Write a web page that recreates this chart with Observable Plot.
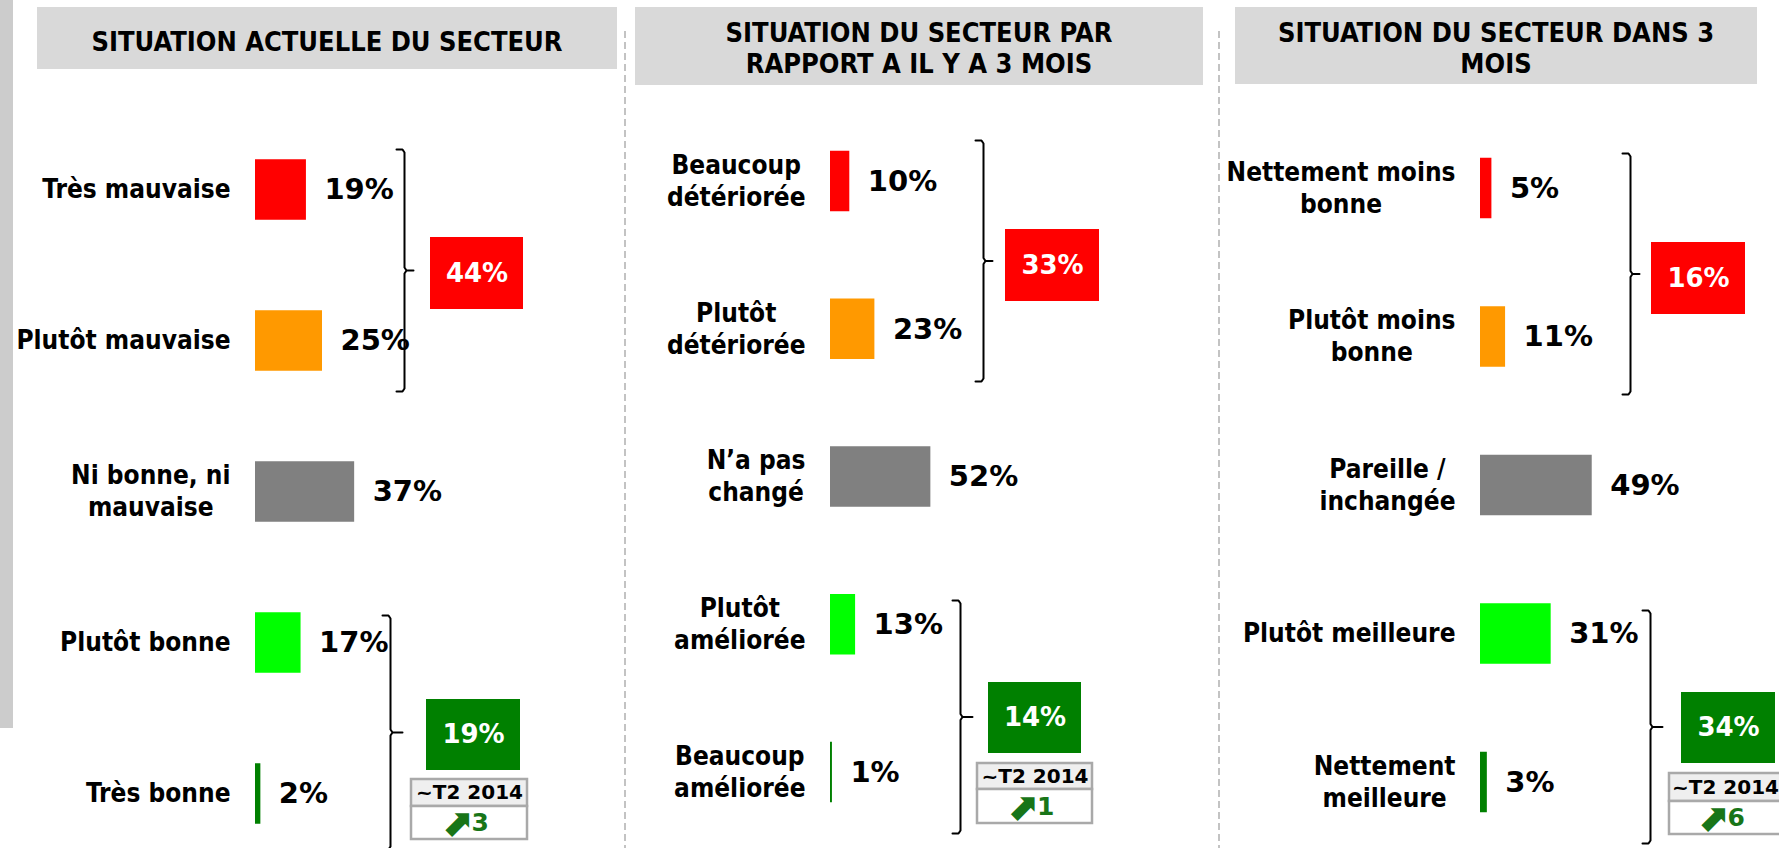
<!DOCTYPE html>
<html><head><meta charset="utf-8">
<script src="https://cdn.jsdelivr.net/npm/d3@7"></script>
<script src="https://cdn.jsdelivr.net/npm/@observablehq/plot@0.6"></script>
<style>
html,body{margin:0;padding:0;background:#fff;}
#root{position:relative;width:1779px;height:848px;overflow:hidden;background:#fff;}
.strip{position:absolute;left:0;top:0;width:13px;height:728px;background:#cccccc;}
.tbox{position:absolute;background:#d9d9d9;}
.ttext{position:absolute;left:0;right:0;text-align:center;font-weight:bold;font-size:27px;line-height:31.5px;color:#000;white-space:pre;font-family:'DejaVu Sans Condensed','DejaVu Sans',sans-serif;}
.dash{position:absolute;width:2px;top:31px;height:817px;background:repeating-linear-gradient(to bottom,#c3c3c3 0 7px,transparent 7px 11px);z-index:5;}
.pan{position:absolute;top:0;height:848px;}
</style></head><body><div id="root"></div>
<script>
// ---------- data ----------
const panelTitles = ["SITUATION ACTUELLE DU SECTEUR", "SITUATION DU SECTEUR PAR\nRAPPORT A IL Y A 3 MOIS", "SITUATION DU SECTEUR DANS 3\nMOIS"];
const labels1 = ["Très mauvaise", "Plutôt mauvaise", "Ni bonne, ni\nmauvaise", "Plutôt bonne", "Très bonne"];
const values1 = [19, 25, 37, 17, 2];
const labels2 = ["Beaucoup\ndétériorée", "Plutôt\ndétériorée", "N’a pas\nchangé", "Plutôt\naméliorée", "Beaucoup\naméliorée"];
const values2 = [10, 23, 52, 13, 1];
const labels3 = ["Nettement moins\nbonne", "Plutôt moins\nbonne", "Pareille /\ninchangée", "Plutôt meilleure", "Nettement\nmeilleure"];
const values3 = [5, 11, 49, 31, 3];
const negTotals = [44, 33, 16];
const posTotals = [19, 14, 34];
const trendPeriod = "~T2 2014";
const trendDeltas = [3, 1, 6];

// ---------- styles / layout ----------
const barColors = ["#ff0000", "#ff9900", "#808080", "#00ff00", "#008000"];
const NEG = "#ff0000", POS = "#008000", TREND = "#187518";
const CONDENSED = "'DejaVu Sans Condensed', 'DejaVu Sans', sans-serif";
const REGULAR = "'DejaVu Sans', sans-serif";

const layouts = [
  {left: 0, width: 625, x0: 255, k: 2.68, c0: 189.5, c4: 793.5,
   ub: {xv: 404, top: 149, bot: 391}, red: [430, 523, 237, 309],
   lb: {xv: 390, top: 615, bot: 849}, green: [426, 520, 699, 770],
   t2: [411, 527, 779, 806, 839],
   tbox: [37, 7, 580, 62], ttop: 19},
  {left: 625, width: 594, x0: 830, k: 1.93, c0: 181, c4: 772,
   ub: {xv: 983, top: 140, bot: 381}, red: [1005, 1099, 229, 301],
   lb: {xv: 960, top: 600, bot: 833}, green: [988, 1081, 682, 753],
   t2: [977, 1092, 763, 789, 823],
   tbox: [635, 7, 568, 78], ttop: 9.75},
  {left: 1219, width: 560, x0: 1480, k: 2.28, c0: 188, c4: 782,
   ub: {xv: 1630, top: 153, bot: 394}, red: [1651, 1745, 242, 314],
   lb: {xv: 1650, top: 610, bot: 843}, green: [1681, 1775, 692, 763],
   t2: [1669, 1781, 773, 801, 834],
   tbox: [1235, 7, 522, 77], ttop: 9.75}
];

const root = document.getElementById("root");
const cv = document.createElement("canvas").getContext("2d");
function measure(t, font) { cv.font = font; return cv.measureText(t).width; }

function drawPanel(p, title, labels, values, negTotal, posTotal, delta) {
  const s = (p.c4 - p.c0) / 4;
  const ux = g => (g - p.x0) / p.k;
  const uy = g => (g - p.c0) / s;
  const hb = 30.25 / s;
  const data = labels.map((l, i) => ({label: l, value: values[i], i, color: barColors[i]}));

  // category label lines (centered block, right edge at gap from bar start)
  const LFONT = `bold 26px ${CONDENSED}`;
  const lines = [];
  data.forEach(d => {
    const parts = d.label.split("\n");
    const maxW = Math.max(...parts.map(t => measure(t, LFONT)));
    parts.forEach((t, j) => lines.push({
      text: t,
      x: -(25 + maxW / 2) / p.k,
      y: d.i + ((j - (parts.length - 1) / 2) * 32) / s
    }));
  });

  function brace(b, tip) {
    const mid = (b.top + b.bot) / 2, h = 8;
    return [[b.xv - h, b.top], [b.xv - 2, b.top], [b.xv, b.top + 3], [b.xv, mid - 3], [b.xv + 2, mid],
            [b.xv + tip, mid], [b.xv + 2, mid], [b.xv, mid + 3], [b.xv, b.bot - 3], [b.xv - 2, b.bot], [b.xv - h, b.bot]]
      .map(([x, y]) => ({x: ux(x), y: uy(y)}));
  }
  const box = ([x1, x2, y1, y2]) => ({x1: ux(x1), x2: ux(x2), y1: uy(y1), y2: uy(y2), cx: ux((x1 + x2) / 2), cy: uy((y1 + y2) / 2)});
  const red = box(p.red), green = box(p.green);
  const [tx1, tx2, ty1, tym, ty2] = p.t2;
  const head = box([tx1, tx2, ty1, tym]), row = box([tx1, tx2, tym, ty2]);

  const chart = Plot.plot({
    width: p.width, height: 848,
    marginTop: 0, marginBottom: 0, marginLeft: 0, marginRight: 0,
    style: {background: "transparent", overflow: "visible"},
    x: {domain: [0, 100], range: [p.x0 - p.left, p.x0 - p.left + 100 * p.k], axis: null},
    y: {domain: [0, 4], range: [p.c0, p.c4], axis: null},
    color: {type: "identity"},
    marks: [
      Plot.rect(data, {x1: 0, x2: "value", y1: d => d.i - hb, y2: d => d.i + hb, fill: "color"}),
      Plot.text(lines, {x: "x", y: "y", text: "text", textAnchor: "middle", lineAnchor: "middle",
        fontSize: 26, fontWeight: "bold", fontFamily: CONDENSED, fill: "#000"}),
      Plot.text(data, {x: "value", y: "i", text: d => `${d.value}%`, dx: 18, textAnchor: "start", lineAnchor: "middle",
        fontSize: 29, fontWeight: "bold", fontFamily: REGULAR, fill: "#000"}),
      Plot.line(brace(p.ub, 9), {x: "x", y: "y", stroke: "#000", strokeWidth: 2}),
      Plot.line(brace(p.lb, 12), {x: "x", y: "y", stroke: "#000", strokeWidth: 2}),
      Plot.rect([red], {x1: "x1", x2: "x2", y1: "y1", y2: "y2", fill: NEG}),
      Plot.text([red], {x: "cx", y: "cy", text: () => `${negTotal}%`, lineAnchor: "middle",
        fontSize: 26, fontWeight: "bold", fontFamily: REGULAR, fill: "#fff"}),
      Plot.rect([green], {x1: "x1", x2: "x2", y1: "y1", y2: "y2", fill: POS}),
      Plot.text([green], {x: "cx", y: "cy", text: () => `${posTotal}%`, lineAnchor: "middle",
        fontSize: 26, fontWeight: "bold", fontFamily: REGULAR, fill: "#fff"}),
      Plot.rect([head], {x1: "x1", x2: "x2", y1: "y1", y2: "y2", fill: "#efefef", stroke: "#a9a9a9", strokeWidth: 2.5}),
      Plot.rect([row], {x1: "x1", x2: "x2", y1: "y1", y2: "y2", fill: "#fff", stroke: "#a9a9a9", strokeWidth: 2.5}),
      Plot.text([head], {x: "cx", y: "cy", text: () => trendPeriod, lineAnchor: "middle",
        fontSize: 20, fontWeight: "bold", fontFamily: REGULAR, fill: "#000"}),
      Plot.text([row], {x: "cx", y: "cy", text: () => "⬈", textAnchor: "end", lineAnchor: "middle", dx: 3, dy: 1,
        fontSize: 38, fontWeight: "bold", fontFamily: REGULAR, fill: TREND}),
      Plot.text([row], {x: "cx", y: "cy", text: () => `${delta}`, textAnchor: "start", lineAnchor: "middle", dx: 2,
        fontSize: 25, fontWeight: "bold", fontFamily: REGULAR, fill: TREND})
    ]
  });
  const holder = document.createElement("div");
  holder.className = "pan";
  holder.style.left = p.left + "px";
  holder.style.width = p.width + "px";
  holder.appendChild(chart);
  root.appendChild(holder);

  const tb = document.createElement("div");
  tb.className = "tbox";
  const [bx, by, bw, bh] = p.tbox;
  Object.assign(tb.style, {left: bx + "px", top: by + "px", width: bw + "px", height: bh + "px"});
  const tt = document.createElement("div");
  tt.className = "ttext";
  tt.style.top = p.ttop + "px";
  tt.textContent = title;
  tb.appendChild(tt);
  root.appendChild(tb);
}

const strip = document.createElement("div");
strip.className = "strip";
root.appendChild(strip);

const allLabels = [labels1, labels2, labels3];
const allValues = [values1, values2, values3];
layouts.forEach((p, i) => drawPanel(p, panelTitles[i], allLabels[i], allValues[i], negTotals[i], posTotals[i], trendDeltas[i]));

[624, 1218].forEach(x => {
  const d = document.createElement("div");
  d.className = "dash";
  d.style.left = x + "px";
  root.appendChild(d);
});
</script>
</body></html>
